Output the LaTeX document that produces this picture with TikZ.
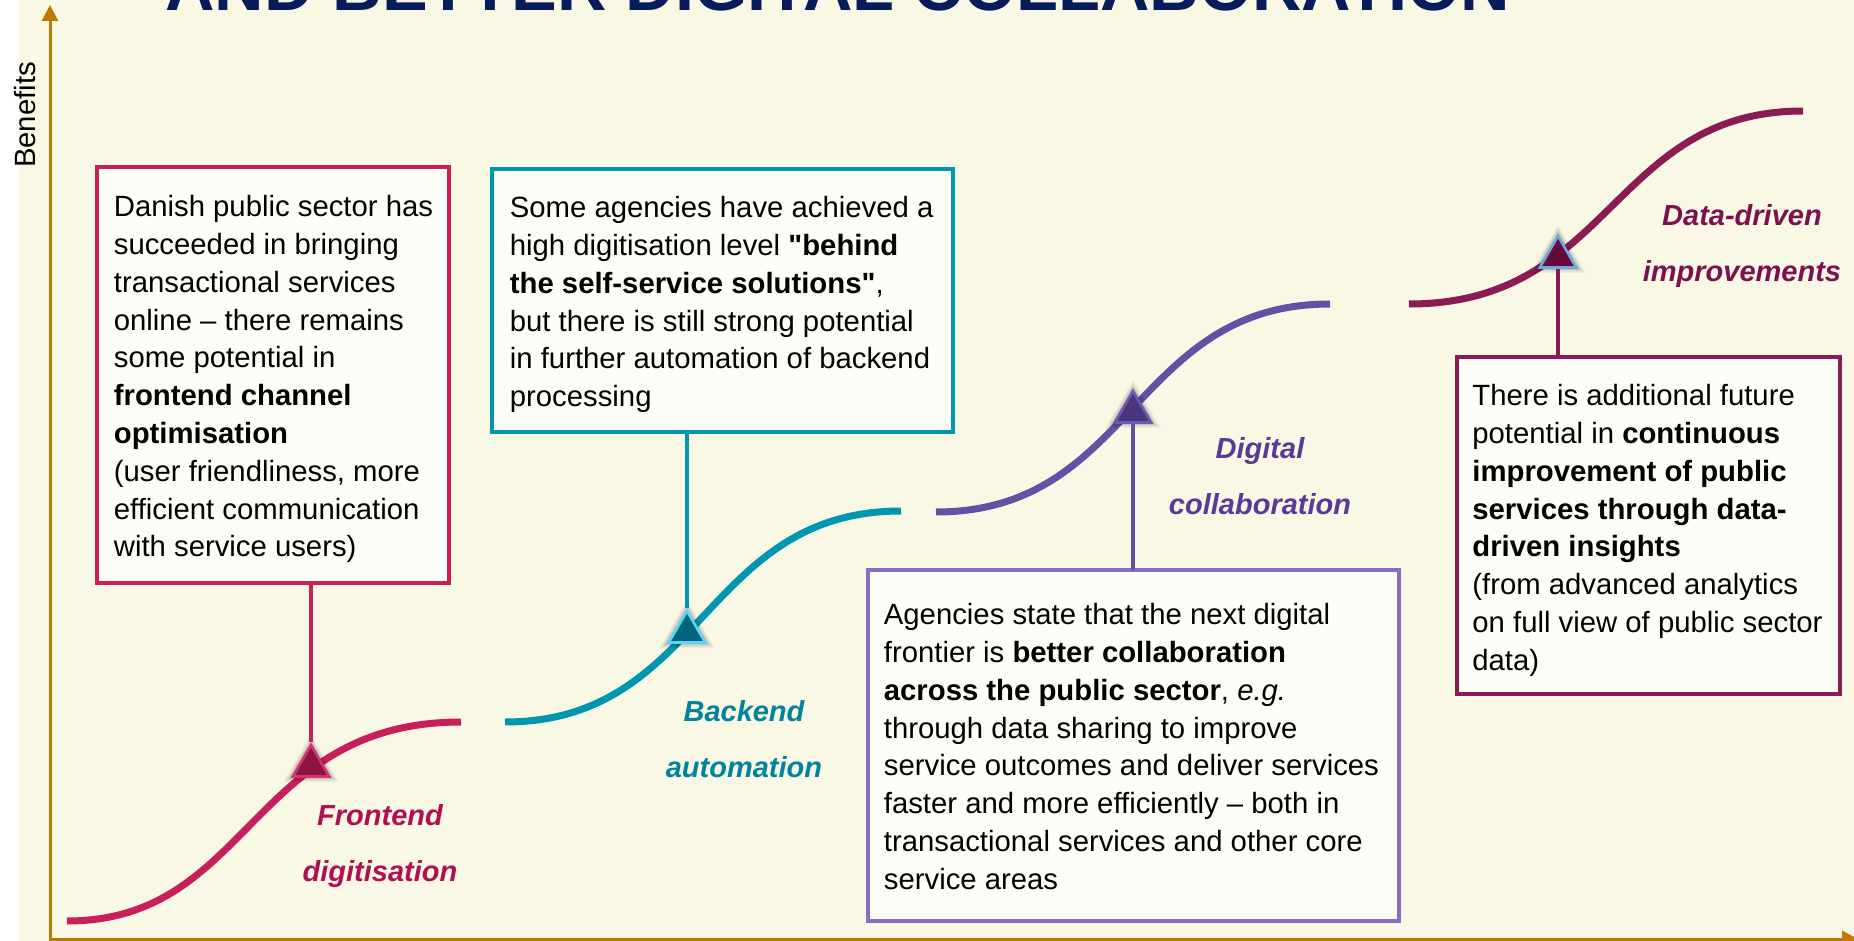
\documentclass[tikz,border=0pt]{standalone}
\usepackage{fontspec}
\setmainfont{Liberation Sans}[Ligatures=TeXOff]
\usetikzlibrary{arrows.meta,shapes.geometric,calc}

% palette
\definecolor{cream}{RGB}{249,248,229}
\definecolor{axisgold}{RGB}{192,122,0}
\definecolor{titlenavy}{RGB}{8,28,92}
\definecolor{boxfill}{RGB}{253,253,247}
\definecolor{fdline}{RGB}{200,30,90}
\definecolor{fdtext}{RGB}{178,14,82}
\definecolor{fdtri}{RGB}{140,20,65}
\definecolor{fdedge}{RGB}{214,52,112}
\definecolor{baline}{RGB}{0,150,175}
\definecolor{batext}{RGB}{0,132,158}
\definecolor{batri}{RGB}{0,100,122}
\definecolor{baedge}{RGB}{90,215,245}
\definecolor{dcline}{RGB}{100,80,165}
\definecolor{dcbox}{RGB}{138,108,200}
\definecolor{dctext}{RGB}{88,58,152}
\definecolor{dctri}{RGB}{74,53,128}
\definecolor{dcedge}{RGB}{112,88,178}
\definecolor{ddline}{RGB}{139,26,85}
\definecolor{ddtext}{RGB}{125,17,80}
\definecolor{ddtri}{RGB}{102,10,60}
\definecolor{ddedge}{RGB}{110,168,220}

\newcommand\bodysize{\fontsize{14.65pt}{18.9pt}\selectfont}
\newcommand\stagefont{\fontsize{14.5pt}{27.8pt}\selectfont\bfseries\itshape}

% soft halo behind a marker triangle centred at #1
\newcommand\trihalo[1]{%
  \foreach \r/\o in {16/0.05,14.5/0.07,13/0.1}{%
    \fill[black,opacity=\o] ($(#1)+(90:\r pt)$) -- ($(#1)+(210:\r pt)$)
      -- ($(#1)+(330:\r pt)$) -- cycle;}}

\tikzset{
  axis/.style={draw=axisgold, line width=1.5pt, -{Triangle[length=8pt,width=8pt]}},
  scurve/.style={line width=3.5pt},
  box/.style={draw, line width=1.8pt, fill=boxfill, anchor=north west,
    inner sep=0pt, outer sep=0pt},
  boxtext/.style={anchor=north west, inner sep=0pt, align=left, font=\bodysize},
  link/.style={line width=1.6pt},
  marker/.style={regular polygon, regular polygon sides=3, minimum size=21pt,
    inner sep=0pt, line width=1.3pt},
  stage/.style={align=center, inner sep=0pt, font=\stagefont},
}

\begin{document}
\begin{tikzpicture}[x=0.5pt,y=-0.5pt]
\useasboundingbox (0,0) rectangle (1854,941);
\fill[white] (0,0) rectangle (1854,941);
\fill[cream] (19,0) rectangle (1854,941);

% heading, partly above the page edge
\node[anchor=base west, inner sep=0pt, text=titlenavy,
      font=\fontsize{34.25pt}{40pt}\selectfont\bfseries] (title) at (165,11)
  {AND BETTER DIGITAL COLLABORATION};

% axes
\coordinate (ybot) at (50,941);
\coordinate (ytip) at (50,5);
\coordinate (orig) at (50,939);
\coordinate (xtip) at (1858,939);
\draw[axis] (ybot) -- (ytip);
\draw[axis] (orig) -- (xtip);
\node[rotate=90, font=\bodysize, inner sep=0pt] (benefits) at (25,115) {Benefits};

% S-curves of the four stages
\draw[scurve, fdline] (67,921) .. controls (250,921) and (250,722) .. (461,722);
\draw[scurve, baline] (505,722) .. controls (703,722) and (703,511) .. (901,511);
\draw[scurve, dcline] (936,512) .. controls (1133,512) and (1133,304) .. (1330,304);
\draw[scurve, ddline] (1409,304) .. controls (1612,304) and (1612,111) .. (1803,111);

% boxes
\node[box, draw=fdline, minimum width=176pt, minimum height=208pt] (box1) at (97,167) {};
\node[box, draw=baline, minimum width=230.5pt, minimum height=131.5pt] (box2) at (492,169) {};
\node[box, draw=dcbox, minimum width=265.5pt, minimum height=175.5pt] (box3) at (868,570) {};
\node[box, draw=ddline, minimum width=191.5pt, minimum height=168.5pt] (box4) at (1457,357) {};

% marker centres
\coordinate (m1) at (311,766);
\coordinate (m2) at (687,632);
\coordinate (m3) at (1133,412);
\coordinate (m4) at (1558,257);
\trihalo{m1}
\trihalo{m2}
\trihalo{m3}
\trihalo{m4}
\node[marker, fill=fdtri, draw=fdedge] (tri1) at (m1) {};
\node[marker, fill=batri, draw=baedge] (tri2) at (m2) {};
\node[marker, fill=dctri, draw=dcedge] (tri3) at (m3) {};
\node[marker, fill=ddtri, draw=ddedge] (tri4) at (m4) {};

% connectors from boxes to markers
\draw[link, fdline] (box1.south -| tri1.north) -- (tri1.north);
\draw[link, baline] (box2.south -| tri2.north) -- (tri2.north);
\draw[link, dcline] (box3.north -| tri3.south) -- (tri3.south);
\draw[link, ddline] (box4.north -| tri4.south) -- (tri4.south);

% box texts
\node[boxtext] (txt1) at (113.5,195) {Danish public sector has\\
succeeded in bringing\\
transactional services\\
online – there remains\\
some potential in\\
\textbf{frontend channel}\\
\textbf{optimisation}\\
(user friendliness, more\\
efficient communication\\
with service users)};

\node[boxtext] (txt2) at (509.5,196) {Some agencies have achieved a\\
high digitisation level \textbf{"behind}\\
\textbf{the self-service solutions"},\\
but there is still strong potential\\
in further automation of backend\\
processing};

\node[boxtext] (txt3) at (883.5,603) {Agencies state that the next digital\\
frontier is \textbf{better collaboration}\\
\textbf{across the public sector}, \textit{e.g.}\\
through data sharing to improve\\
service outcomes and deliver services\\
faster and more efficiently – both in\\
transactional services and other core\\
service areas};

\node[boxtext] (txt4) at (1472,384) {There is additional future\\
potential in \textbf{continuous}\\
\textbf{improvement of public}\\
\textbf{services through data-}\\
\textbf{driven insights}\\
(from advanced analytics\\
on full view of public sector\\
data)};

% stage labels
\node[stage, text=fdtext] (lab1) at (380,846) {Frontend\\digitisation};
\node[stage, text=batext] (lab2) at (744,739) {Backend\\automation};
\node[stage, text=dctext] (lab3) at (1260,476) {Digital\\collaboration};
\node[stage, text=ddtext] (lab4) at (1742,246) {Data-driven\\improvements};
\end{tikzpicture}
\end{document}
